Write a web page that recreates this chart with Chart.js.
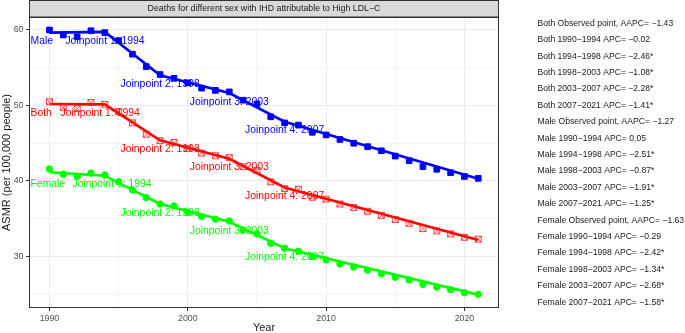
<!DOCTYPE html>
<html><head><meta charset="utf-8">
<script src="https://cdn.jsdelivr.net/npm/chart.js@4"></script>
<style>html,body{margin:0;padding:0;background:#fff}#wrap{width:685px;height:333px;position:relative}</style>
</head><body><div id="wrap"><canvas id="c" width="685" height="333"></canvas></div>
<script>
// ---- data ----
const years = [1990,1991,1992,1993,1994,1995,1996,1997,1998,1999,2000,2001,2002,2003,2004,2005,2006,2007,2008,2009,2010,2011,2012,2013,2014,2015,2016,2017,2018,2019,2020,2021];
const maleObs   = [60.0,59.34,59.1,59.9,59.65,58.6,56.8,55.15,54.1,53.6,53.0,52.3,52.0,51.8,50.7,50.2,48.5,47.7,47.4,46.45,46.1,45.5,45.0,44.55,44.0,43.3,42.7,41.9,41.55,41.1,40.6,40.35];
const bothObs   = [50.5,49.75,49.6,50.4,50.15,49.2,47.7,46.2,45.35,45.1,44.3,43.7,43.35,43.1,41.9,41.4,39.9,39.0,38.9,37.85,37.6,36.95,36.5,36.0,35.45,34.9,34.4,33.7,33.4,33.0,32.55,32.3];
const femaleObs = [41.6,40.9,40.6,41.05,40.8,39.9,38.8,37.8,36.95,36.7,35.85,35.3,34.95,34.7,33.5,33.0,31.75,31.1,30.7,30.0,29.55,29.0,28.6,28.2,27.7,27.25,26.9,26.3,25.95,25.6,25.2,25.0];
const joinYears = [1990,1994,1998,2003,2007,2021];
const maleFit   = [59.65,59.75,54.0,51.65,47.85,40.3];
const bothFit   = [50.2,50.15,45.4,42.95,39.15,32.2];
const femaleFit = [41.15,40.7,36.95,34.6,31.1,24.95];
const xMajorTicks = [1990,2000,2010,2020];
const xMinorTicks = [1995,2005,2015];
const yMajorTicks = [30,40,50,60];
const yMinorTicks = [25,35,45,55];
const panelTitle = "Deaths for different sex with IHD attributable to High LDL\u2212C";
const xTitle = "Year";
const yTitle = "ASMR (per 100,000 people)";
const apcText = [
 "Both Observed point, AAPC= \u22121.43",
 "Both 1990\u22121994 APC= \u22120.02",
 "Both 1994\u22121998 APC= \u22122.46*",
 "Both 1998\u22122003 APC= \u22121.08*",
 "Both 2003\u22122007 APC= \u22122.28*",
 "Both 2007\u22122021 APC= \u22121.41*",
 "Male Observed point, AAPC= \u22121.27",
 "Male 1990\u22121994 APC= 0.05",
 "Male 1994\u22121998 APC= \u22122.51*",
 "Male 1998\u22122003 APC= \u22120.87*",
 "Male 2003\u22122007 APC= \u22121.91*",
 "Male 2007\u22122021 APC= \u22121.25*",
 "Female Observed point, AAPC= \u22121.63",
 "Female 1990\u22121994 APC= \u22120.29",
 "Female 1994\u22121998 APC= \u22122.42*",
 "Female 1998\u22122003 APC= \u22121.34*",
 "Female 2003\u22122007 APC= \u22122.68*",
 "Female 2007\u22122021 APC= \u22121.58*"
];
// ---- styling ----
const BLUE='#0000FF', RED='#FF0000', GREEN='#00FF00';
const FONT="'Liberation Sans', Arial, Helvetica, sans-serif";

function boxCross(color){
  const c=document.createElement('canvas'); c.width=9; c.height=9;
  const g=c.getContext('2d'); g.strokeStyle=color; g.lineWidth=1;
  g.strokeRect(1.5,1.5,6,6);
  g.beginPath(); g.moveTo(1.5,1.5); g.lineTo(7.5,7.5); g.moveTo(7.5,1.5); g.lineTo(1.5,7.5); g.stroke();
  return c;
}
const pts = arr => years.map((y,i)=>({x:y,y:arr[i]}));
const fitPts = arr => joinYears.map((y,i)=>({x:y,y:arr[i]}));

const groups = [
  {name:'Male', color:BLUE, fit:maleFit, gap:12.4},
  {name:'Both', color:RED, fit:bothFit, gap:8.7},
  {name:'Female', color:GREEN, fit:femaleFit, gap:7.3}
];

const decor = {
  id:'decor',
  beforeDatasetsDraw(chart){
    const {ctx, chartArea:a, scales:{x,y}} = chart;
    ctx.save();
    ctx.font = "10.4px "+FONT;
    ctx.textBaseline='middle';
    groups.forEach(g=>{
      ctx.fillStyle=g.color;
      for(let k=2;k<=4;k++){
        const px=x.getPixelForValue(joinYears[k]);
        const py=y.getPixelForValue(g.fit[k])+8.9;
        ctx.textAlign='center';
        ctx.fillText('Joinpoint '+k+': '+joinYears[k], px, py);
      }
      ctx.textAlign='left';
      const py1=y.getPixelForValue(g.fit[1])+8.9;
      const lx=a.left+1.5;
      ctx.fillText(g.name, lx, py1);
      ctx.fillText('Joinpoint 1: '+joinYears[1], lx+ctx.measureText(g.name).width+g.gap, py1);
    });
    ctx.restore();
  },
  afterDraw(chart){
    const {ctx, chartArea:a} = chart;
    ctx.save();
    ctx.strokeStyle='#333333'; ctx.lineWidth=1;
    ctx.strokeRect(a.left+0.5, a.top+0.5, a.right-a.left-1, a.bottom-a.top-1);
    ctx.fillStyle='#D9D9D9';
    ctx.fillRect(a.left, 0, a.right-a.left, a.top);
    ctx.strokeRect(a.left+0.5, 0.5, a.right-a.left-1, a.top-0.5);
    ctx.fillStyle='#1A1A1A';
    ctx.font="8.8px "+FONT; ctx.textAlign='center'; ctx.textBaseline='middle';
    ctx.fillText(panelTitle,(a.left+a.right)/2, a.top/2+0.5);
    ctx.font="8.6px "+FONT;
    ctx.textAlign='left';
    apcText.forEach((t,i)=>ctx.fillText(t, 537.5, 23.5+i*16.4));
    ctx.restore();
  }
};

new Chart(document.getElementById('c'),{
  type:'line',
  data:{datasets:[
    {data:pts(maleObs), showLine:false, pointStyle:'rect', pointRadius:4, pointBackgroundColor:BLUE, pointBorderColor:BLUE, pointBorderWidth:1},
    {data:pts(bothObs), showLine:false, pointStyle:boxCross('rgba(255,30,30,0.8)'), pointRadius:4},
    {data:pts(femaleObs), showLine:false, pointStyle:'circle', pointRadius:3.2, pointBackgroundColor:GREEN, pointBorderColor:GREEN, pointBorderWidth:1},
    {data:fitPts(maleFit), borderColor:BLUE, borderWidth:2.6, pointRadius:0, tension:0},
    {data:fitPts(bothFit), borderColor:RED, borderWidth:2.6, pointRadius:0, tension:0},
    {data:fitPts(femaleFit), borderColor:GREEN, borderWidth:2.6, pointRadius:0, tension:0}
  ]},
  options:{
    responsive:false, animation:false, devicePixelRatio:1,
    layout:{padding:{left:0, top:17, right:186, bottom:0}},
    plugins:{legend:{display:false}, tooltip:{enabled:false}},
    scales:{
      x:{type:'linear', min:1988.52, max:2022.5,
        afterBuildTicks(s){ s.ticks = xMajorTicks.concat(xMinorTicks).sort((a,b)=>a-b).map(v=>({value:v})); },
        afterFit(s){ s.height=25; },
        ticks:{callback:v=>xMajorTicks.includes(v)?String(v):'', font:{family:FONT,size:8.8}, color:'#4D4D4D', padding:2, maxRotation:0, autoSkip:false},
        grid:{color:c=>xMajorTicks.includes(c.tick&&c.tick.value)?'#EBEBEB':'#F4F4F4', lineWidth:1, tickLength:3,
              tickColor:c=>xMajorTicks.includes(c.tick&&c.tick.value)?'#333333':'rgba(0,0,0,0)'},
        border:{display:false},
        title:{display:true, text:xTitle, font:{family:FONT,size:11,lineHeight:1}, color:'#1A1A1A', padding:{top:0,bottom:0}}
      },
      y:{type:'linear', min:23.18, max:61.72,
        afterBuildTicks(s){ s.ticks = yMajorTicks.concat(yMinorTicks).sort((a,b)=>a-b).map(v=>({value:v})); },
        afterFit(s){ s.width=29; },
        ticks:{callback:v=>yMajorTicks.includes(v)?String(v):'', font:{family:FONT,size:8.8}, color:'#4D4D4D', padding:2.5, autoSkip:false},
        grid:{color:c=>yMajorTicks.includes(c.tick&&c.tick.value)?'#EBEBEB':'#F4F4F4', lineWidth:1, tickLength:3,
              tickColor:c=>yMajorTicks.includes(c.tick&&c.tick.value)?'#333333':'rgba(0,0,0,0)'},
        border:{display:false},
        title:{display:true, text:yTitle, font:{family:FONT,size:11,lineHeight:1}, color:'#1A1A1A', padding:{top:1,bottom:0}}
      }
    }
  },
  plugins:[decor]
});
</script></body></html>
